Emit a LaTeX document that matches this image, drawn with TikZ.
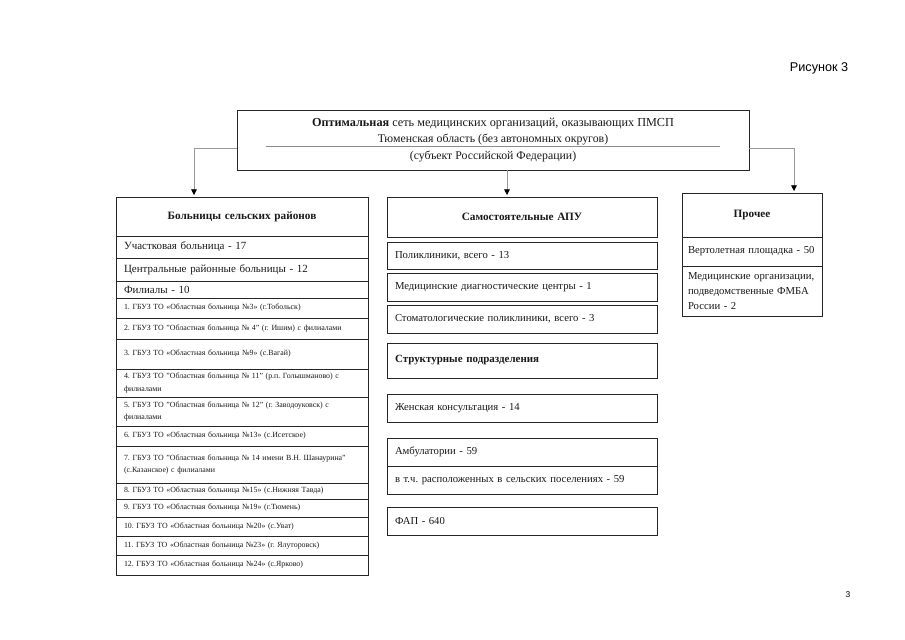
\documentclass[tikz,border=0pt]{standalone}
\usepackage{fontspec}
\setmainfont{Liberation Serif}
\newfontfamily\labelfont{Liberation Sans}
\usetikzlibrary{arrows.meta, positioning, calc}

\begin{document}
\frenchspacing
\begin{tikzpicture}[x=0.25mm, y=-0.25mm,
  box/.style={draw=black!85, line width=0.6pt, inner xsep=2mm, inner ysep=0.5mm,
              outer sep=0pt, anchor=north west, text=black!90},
  lcell/.style={box, text width=59mm, align=left, font=\fontsize{7.8}{10}\selectfont},
  litem/.style={lcell, font=\fontsize{5.6}{9.2}\selectfont},
  mcell/.style={box, text width=63.5mm, align=left, font=\fontsize{7.6}{10}\selectfont},
  rcell/.style={box, inner xsep=1.5mm, text width=32mm, align=left, font=\fontsize{7.6}{10.7}\selectfont},
  head/.style={font=\fontsize{8}{10}\selectfont\bfseries, align=center},
  conn/.style={draw=black!40, line width=0.5pt, shorten >=0.5mm,
               -{Triangle[length=4pt, width=4pt, color=black]}}]
  \useasboundingbox (0,0) rectangle (905,640);

  % caption and page number
  \node[font=\labelfont\fontsize{9}{11}\selectfont, anchor=west] (fig) at (785,68) {Рисунок 3};
  \node[font=\labelfont\fontsize{6}{7}\selectfont] (page) at (848,595) {3};

  % root box
  \node[box, minimum width=128mm, minimum height=15mm, align=center,
        font=\fontsize{8.4}{11.7}\selectfont] (top) at (237,110)
    {{\fontsize{8.7}{11.7}\selectfont\textbf{Оптимальная} сеть медицинских организаций, оказывающих ПМСП}\\
     Тюменская область (без автономных округов)\\
     (субъект Российской Федерации)};
  \draw[black!45] ($(top.north west)+(29,36)$) -- ($(top.north east)+(-29,36)$);

  % left column: rural hospitals
  \node[lcell, head, minimum height=9.75mm] (hosp) at (116,197) {Больницы сельских районов};
  \node[lcell, minimum height=5.5mm, below=0pt of hosp] (uch) {Участковая больница - 17};
  \node[lcell, minimum height=5.75mm, below=0pt of uch] (crb) {Центральные районные больницы - 12};
  \node[lcell, minimum height=4.25mm, below=0pt of crb] (fil) {Филиалы - 10};
  \node[litem, minimum height=5mm, below=0pt of fil] (ob1) {1. ГБУЗ ТО «Областная больница №3» (г.Тобольск)};
  \node[litem, minimum height=5.25mm, below=0pt of ob1] (ob2) {2. ГБУЗ ТО "Областная больница № 4" (г. Ишим) с филиалами};
  \node[litem, minimum height=7.5mm, below=0pt of ob2] (ob3) {3. ГБУЗ ТО «Областная больница №9» (с.Вагай)};
  \node[litem, minimum height=7mm, below=0pt of ob3] (ob4) {4. ГБУЗ ТО "Областная больница № 11" (р.п. Голышманово) с\\филиалами};
  \node[litem, minimum height=7.25mm, below=0pt of ob4] (ob5) {5. ГБУЗ ТО "Областная больница № 12" (г. Заводоуковск) с\\филиалами};
  \node[litem, minimum height=5mm, below=0pt of ob5] (ob6) {6. ГБУЗ ТО «Областная больница №13» (с.Исетское)};
  \node[litem, minimum height=9.25mm, below=0pt of ob6] (ob7) {7. ГБУЗ ТО "Областная больница № 14 имени В.Н. Шанаурина"\\(с.Казанское) с филиалами};
  \node[litem, minimum height=4mm, below=0pt of ob7] (ob8) {8. ГБУЗ ТО «Областная больница №15» (с.Нижняя Тавда)};
  \node[litem, minimum height=4.5mm, below=0pt of ob8] (ob9) {9. ГБУЗ ТО «Областная больница №19» (г.Тюмень)};
  \node[litem, minimum height=4.75mm, below=0pt of ob9] (ob10) {10. ГБУЗ ТО «Областная больница №20» (с.Уват)};
  \node[litem, minimum height=4.75mm, below=0pt of ob10] (ob11) {11. ГБУЗ ТО «Областная больница №23» (г. Ялуторовск)};
  \node[litem, minimum height=5mm, below=0pt of ob11] (ob12) {12. ГБУЗ ТО «Областная больница №24» (с.Ярково)};

  % middle column: outpatient units
  \node[mcell, head, minimum height=10mm] (apu) at (387,197) {Самостоятельные АПУ};
  \node[mcell, minimum height=6.75mm, below=1.25mm of apu] (poly) {Поликлиники, всего - 13};
  \node[mcell, minimum height=7mm, below=1mm of poly] (diag) {Медицинские диагностические центры - 1};
  \node[mcell, minimum height=7mm, below=1mm of diag] (dent) {Стоматологические поликлиники, всего - 3};
  \node[mcell, minimum height=8.75mm, below=2.5mm of dent, font=\fontsize{7.8}{10}\selectfont\bfseries] (struct) {Структурные подразделения};
  \node[mcell, minimum height=7mm, below=4mm of struct] (women) {Женская консультация - 14};
  \node[mcell, minimum height=7mm, below=4mm of women] (amb) {Амбулатории - 59};
  \node[mcell, minimum height=7mm, below=0pt of amb] (ambv) {в т.ч. расположенных в сельских поселениях - 59};
  \node[mcell, minimum height=7mm, below=3.25mm of ambv] (fap) {ФАП - 640};

  % right column: other
  \node[rcell, head, minimum height=11mm] (other) at (682,193) {Прочее};
  \node[rcell, minimum height=7.25mm, below=0pt of other] (heli) {Вертолетная площадка - 50};
  \node[rcell, minimum height=12.5mm, below=0pt of heli] (fmba) {Медицинские организации,\\подведомственные ФМБА\\России - 2};

  % connectors
  \coordinate (lturn) at (194,148);
  \coordinate (rturn) at (794,148);
  \coordinate (mdrop) at (507,170);
  \draw[conn] (top.west |- lturn) -- (lturn) -- (lturn |- hosp.north);
  \draw[conn] (mdrop |- top.south) -- (mdrop |- apu.north);
  \draw[conn] (top.east |- rturn) -- (rturn) -- (rturn |- other.north);
\end{tikzpicture}
\end{document}
